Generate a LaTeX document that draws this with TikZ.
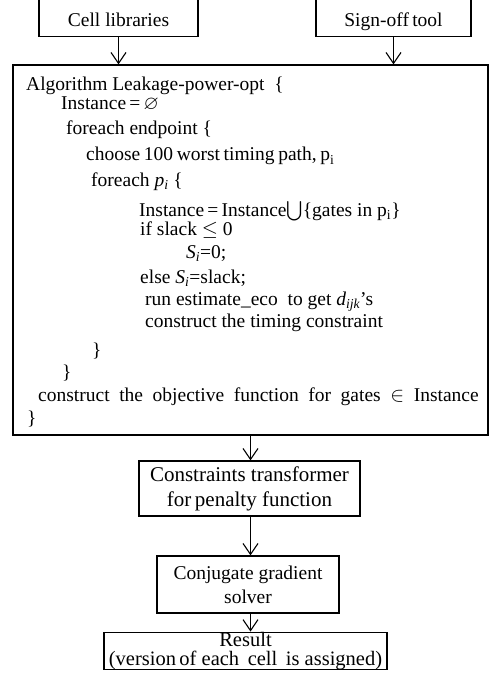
\documentclass[tikz,border=0pt]{standalone}
\usepackage{amssymb}
\usepackage{fontspec}
\setmainfont{Liberation Serif}
\usetikzlibrary{arrows.meta}

\tikzset{
  box/.style={draw, line width=1.2pt, rectangle, inner sep=0pt, align=center},
  flow/.style={draw, line width=1.1pt, -{Straight Barb[length=11pt,width=15pt,line width=1.1pt]}},
  codeline/.style={anchor=base west, inner sep=0pt},
}

\begin{document}
\begin{tikzpicture}[x=1pt, y=-1pt, font=\fontsize{19.5}{24}\selectfont]
\useasboundingbox (0,0) rectangle (490,676);

% inputs (their tops run off the upper edge)
\node[box, anchor=south, minimum width=159pt, text height=32pt, text depth=5pt, inner ysep=5pt]
  (cell) at (118.5,37) {Cell libraries};
\node[box, anchor=south, minimum width=155pt, text height=32pt, text depth=5pt, inner ysep=5pt]
  (sign) at (393.5,37) {Sign-off\,tool};

% algorithm frame
\node[box, minimum width=475pt, minimum height=370pt] (algo) at (250.5,250) {};

\node[codeline] (l1)  at (26,91)   {Algorithm Leakage-power-opt\ \ \{};
\node[codeline] (l2)  at (61,110)  {Instance\,=\,$\varnothing$};
\node[codeline] (l3)  at (66,135)  {foreach endpoint \{};
\node[codeline] (l4)  at (86,161)  {\spaceskip=3.6pt plus 1pt choose 100 worst timing path, p\textsubscript{i}};
\node[codeline] (l5)  at (91,186)  {foreach \textit{p\textsubscript{i}} \{};
\node[codeline] (l6)  at (139,216) {Instance\,=\,Instance$\bigcup$\{gates in p\textsubscript{i}\}};
\node[codeline] (l7)  at (140,235) {if slack $\leq$ 0};
\node[codeline] (l8)  at (186,258) {\textit{S\textsubscript{i}}=0;};
\node[codeline] (l9)  at (140,283) {else \textit{S\textsubscript{i}}=slack;};
\node[codeline] (l10) at (145,305) {run estimate\_eco\ \ to get \textit{d\textsubscript{ijk}}'s};
\node[codeline] (l11) at (145,327) {construct the timing constraint};
\node[codeline] (l12) at (92,356)  {\}};
\node[codeline] (l13) at (62,378)  {\}};
\node[codeline] (l14) at (38,401)  {\spaceskip=9.6pt construct the objective function for gates $\in$ Instance};
\node[codeline] (l15) at (27,424)  {\}};

% downstream stages
\node[box, minimum width=221pt, minimum height=55pt, font=\fontsize{21}{25}\selectfont] (pen) at (249.5,488.5)
  {Constraints transformer\\for\,penalty function};
\node[box, minimum width=182pt, minimum height=57pt] (cg) at (248,584.5)
  {Conjugate gradient\\solver};
\node[box, minimum width=283pt, minimum height=34pt, font=\fontsize{20.5}{19}\selectfont] (res) at (245.5,651)
  {Result\\(version\,of each\ \,cell\ \,is assigned)};

% connectors
\draw[flow] (cell.south) -- (cell.south |- algo.north);
\draw[flow] (sign.south) -- (sign.south |- algo.north);
\draw[flow] (algo.south) -- (algo.south |- pen.north);
\draw[flow] (pen.south -| algo.south) -- (algo.south |- cg.north);
\draw[flow] (cg.south -| algo.south) -- (algo.south |- res.north);
\end{tikzpicture}
\end{document}
